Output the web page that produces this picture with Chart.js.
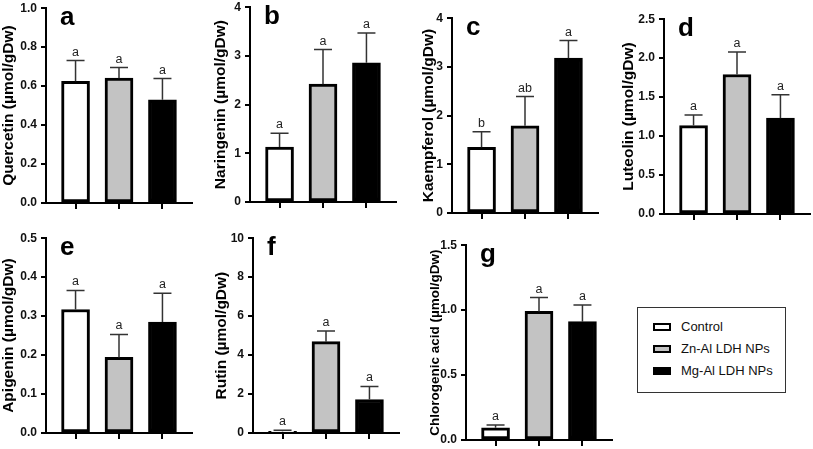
<!DOCTYPE html>
<html>
<head>
<meta charset="utf-8">
<script src="https://cdn.jsdelivr.net/npm/chart.js@4.4.0/dist/chart.umd.min.js"></script>
<style>
  html, body { margin: 0; padding: 0; background: #fff; }
  body { width: 813px; height: 449px; position: relative; overflow: hidden; font-family: "Liberation Sans", Arial, sans-serif; }
  canvas { position: absolute; }
  #legend { position: absolute; left: 637px; top: 307px; width: 147px; height: 84px; border: 1px solid #333; box-sizing: content-box; }
  .swatch { position: absolute; left: 15px; width: 18px; height: 8px; box-sizing: border-box; border: 2.5px solid #000; }
  .label { position: absolute; left: 43px; font-size: 13px; line-height: 16px; color: #111; white-space: nowrap; }
</style>
</head>
<body>
<div id="legend"></div>
<script>
'use strict';

// DATA
const groups = ['Control', 'Zn-Al LDH NPs', 'Mg-Al LDH NPs'];
const panelLetters = ['a', 'b', 'c', 'd', 'e', 'f', 'g'];
const yTitles = [
  'Quercetin (µmol/gDw)',
  'Naringenin (µmol/gDw)',
  'Kaempferol (µmol/gDw)',
  'Luteolin (µmol/gDw)',
  'Apigenin (µmol/gDw)',
  'Rutin (µmol/gDw)',
  'Chlorogenic acid (µmol/gDw)'
];

const quercetin = [0.625, 0.641, 0.530];
const quercetinSd = [0.106, 0.054, 0.109];
const naringenin = [1.13, 2.42, 2.86];
const naringeninSd = [0.28, 0.71, 0.61];
const kaempferol = [1.35, 1.79, 3.18];
const kaempferolSd = [0.32, 0.60, 0.36];
const luteolin = [1.135, 1.79, 1.23];
const luteolinSd = [0.137, 0.29, 0.30];
const apigenin = [0.317, 0.194, 0.285];
const apigeninSd = [0.049, 0.059, 0.074];
const rutin = [0.09, 4.69, 1.72];
const rutinSd = [0.05, 0.54, 0.67];
const chlorogenic = [0.094, 0.99, 0.911];
const chlorogenicSd = [0.021, 0.107, 0.128];

const seriesMeans = [quercetin, naringenin, kaempferol, luteolin, apigenin, rutin, chlorogenic];
const seriesSd = [quercetinSd, naringeninSd, kaempferolSd, luteolinSd, apigeninSd, rutinSd, chlorogenicSd];
const sigLetters = [
  ['a', 'a', 'a'],
  ['a', 'a', 'a'],
  ['b', 'ab', 'a'],
  ['a', 'a', 'a'],
  ['a', 'a', 'a'],
  ['a', 'a', 'a'],
  ['a', 'a', 'a']
];

// tick labels
const yMax = [1, 4, 4, 2.5, 0.5, 10, 1.5];
const yStep = [0.2, 1, 1, 0.5, 0.1, 2, 0.5];
const tickDecimals = [1, 0, 0, 1, 1, 0, 1];

// STYLES / LAYOUT
const groupColors = ['#ffffff', '#c3c3c3', '#000000'];
const PANELS = [
  { left: -1, top: -3, axisW: 47, titleSize: 15.5 },
  { left: 211, top: -4, axisW: 39, titleSize: 15.5 },
  { left: 419, top: 7, axisW: 33, titleSize: 15.5 },
  { left: 619, top: 8, axisW: 45, titleSize: 15.5 },
  { left: -1, top: 227, axisW: 47, titleSize: 15.5 },
  { left: 212, top: 227, axisW: 41, titleSize: 15.5 },
  { left: 427, top: 234, axisW: 39, titleSize: 13.5 }
];
const PLOT_W = 146;
const PLOT_H = 196;
const PAD_TOP = 10;
const PAD_RIGHT = 6;
const X_AXIS_H = 12;

Chart.defaults.font.family = '"Liberation Sans", Arial, sans-serif';

// draws the error bars, significance letters and the panel letter
const errorBarPlugin = {
  id: 'errorBars',
  afterDatasetsDraw(chart, args, opts) {
    const ctx = chart.ctx;
    const yScale = chart.scales.y;
    const bars = chart.getDatasetMeta(0).data;
    ctx.save();
    bars.forEach((bar, i) => {
      const top = yScale.getPixelForValue(opts.means[i] + opts.sd[i]);
      ctx.strokeStyle = '#333';
      ctx.lineWidth = 1.5;
      ctx.beginPath();
      ctx.moveTo(bar.x, bar.y);
      ctx.lineTo(bar.x, top);
      ctx.moveTo(bar.x - 9, top);
      ctx.lineTo(bar.x + 9, top);
      ctx.stroke();

      ctx.fillStyle = '#222';
      ctx.font = '12.5px "Liberation Sans", Arial, sans-serif';
      ctx.textAlign = 'center';
      ctx.textBaseline = 'alphabetic';
      ctx.fillText(opts.letters[i], bar.x, top - 5);
    });
    ctx.fillStyle = '#000';
    ctx.font = 'bold 26px "Liberation Sans", Arial, sans-serif';
    ctx.textAlign = 'left';
    ctx.fillText(opts.panel, chart.chartArea.left + 14, chart.chartArea.top + 17);
    ctx.restore();
  }
};

function makePanel(p) {
  const L = PANELS[p];
  const canvas = document.createElement('canvas');
  canvas.width = L.axisW + PLOT_W + PAD_RIGHT;
  canvas.height = PAD_TOP + PLOT_H + X_AXIS_H;
  canvas.style.left = L.left + 'px';
  canvas.style.top = L.top + 'px';
  document.body.appendChild(canvas);

  const means = seriesMeans[p];

  new Chart(canvas, {
    type: 'bar',
    data: {
      datasets: [{
        data: means.map((v, i) => ({ x: i, y: v })),
        backgroundColor: groupColors,
        borderColor: '#000',
        borderWidth: 3,
        borderSkipped: false,
        barThickness: 28
      }]
    },
    options: {
      responsive: false,
      animation: false,
      devicePixelRatio: 1,
      layout: { padding: { top: PAD_TOP, right: PAD_RIGHT, left: 0, bottom: 0 } },
      plugins: {
        legend: { display: false },
        tooltip: { enabled: false },
        errorBars: {
          means: means,
          sd: seriesSd[p],
          letters: sigLetters[p],
          panel: panelLetters[p]
        }
      },
      scales: {
        x: {
          type: 'linear',
          min: -0.68,
          max: 2.68,
          offset: false,
          afterBuildTicks: s => { s.ticks = groups.map((g, i) => ({ value: i })); },
          ticks: { display: false },
          grid: { offset: false, drawOnChartArea: false, drawTicks: true, tickLength: 6, lineWidth: 2, color: '#000' },
          border: { display: true, color: '#000', width: 2 },
          afterFit: s => { s.height = X_AXIS_H; }
        },
        y: {
          min: 0,
          max: yMax[p],
          ticks: {
            stepSize: yStep[p],
            color: '#111',
            padding: 4,
            font: { size: 12, weight: 'bold' },
            callback: v => Number(v).toFixed(tickDecimals[p])
          },
          grid: { drawOnChartArea: false, drawTicks: true, tickLength: 5, lineWidth: 2, color: '#000' },
          border: { display: true, color: '#000', width: 2 },
          title: {
            display: true,
            text: yTitles[p],
            color: '#000',
            padding: 0,
            font: { size: L.titleSize, weight: 'bold' }
          },
          afterFit: s => { s.width = L.axisW; }
        }
      }
    },
    plugins: [errorBarPlugin]
  });
}

for (let p = 0; p < PANELS.length; p++) {
  makePanel(p);
}

// LEGEND
const legend = document.getElementById('legend');
const legendRows = [19, 41, 63];
groups.forEach((g, i) => {
  const sw = document.createElement('div');
  sw.className = 'swatch';
  sw.style.top = (legendRows[i] - 4) + 'px';
  sw.style.background = groupColors[i];
  legend.appendChild(sw);

  const lab = document.createElement('div');
  lab.className = 'label';
  lab.style.top = (legendRows[i] - 8) + 'px';
  lab.textContent = g;
  legend.appendChild(lab);
});
</script>
</body>
</html>
